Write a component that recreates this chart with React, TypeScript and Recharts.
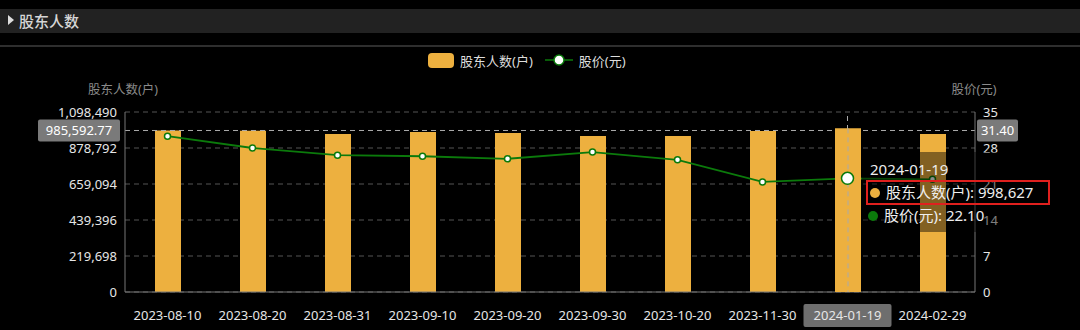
import {
    ComposedChart,
    Bar,
    Line,
    XAxis,
    YAxis,
    CartesianGrid,
    Tooltip,
    ReferenceLine,
    Rectangle,
} from 'recharts'

const categories = ['2023-08-10', '2023-08-20', '2023-08-31', '2023-09-10', '2023-09-20', '2023-09-30', '2023-10-20', '2023-11-30', '2024-01-19', '2024-02-29']
const holders = [985000, 984000, 964000, 976000, 970000, 952000, 952000, 982000, 998627, 964000]
const prices = [30.3, 28.0, 26.6, 26.4, 25.9, 27.2, 25.7, 21.4, 22.1, 21.9]
const leftTicks = [0, 219698, 439396, 659094, 878792, 1098490]
const rightTicks = [0, 7, 14, 21, 28, 35]
const crossValue = 985592.77
const activeCategory = '2024-01-19'

const data = categories.map((name, i) => ({ name, holders: holders[i], price: prices[i] }))

const FONT = "'Noto Sans', 'Noto Sans CJK SC', sans-serif"
const BAR_COLOR = '#EDB03F'
const LINE_COLOR = '#0B7A0B'

const XTick = ({ x, y, payload }: any) => {
    const active = payload.value === activeCategory
    return (
        <g>
            {active && <rect x={x - 44} y={y + 4} width={88} height={23} rx={2} fill="#6e6e6e" />}
            <text x={x} y={y + 20} textAnchor="middle" fill="#e6e6e6" fontSize={13} fontFamily={FONT}>
                {payload.value}
            </text>
        </g>
    )
}

// bar with the crosshair drawn over it for the hovered category
const BarShape = (props: any) => {
    const { x, y, width, height, payload } = props
    return (
        <g>
            <Rectangle {...props} />
            {payload && payload.name === activeCategory && (
                <line x1={x + width / 2} y1={y} x2={x + width / 2} y2={y + height} stroke="#aaa" strokeDasharray="5 4" />
            )}
        </g>
    )
}

const CrossLabel = ({ viewBox }: any) => {
    const { x, y, width } = viewBox
    const right = ((crossValue / leftTicks[leftTicks.length - 1]) * rightTicks[rightTicks.length - 1]).toFixed(2)
    return (
        <g>
            <rect x={x - 87} y={y - 11} width={82} height={22} rx={2} fill="#7a7a7a" />
            <text x={x - 46} y={y + 5} textAnchor="middle" fill="#fff" fontSize={13} fontFamily={FONT}>
                {crossValue.toLocaleString('en-US', { minimumFractionDigits: 2 })}
            </text>
            <rect x={x + width + 2} y={y - 11} width={41} height={22} rx={2} fill="#7a7a7a" />
            <text x={x + width + 22.5} y={y + 5} textAnchor="middle" fill="#fff" fontSize={13} fontFamily={FONT}>
                {right}
            </text>
        </g>
    )
}

const AxisTitle = ({ viewBox, value, side }: any) => {
    const x = side === 'left' ? viewBox.x + viewBox.width - 2 : viewBox.x - 1
    return (
        <text x={x} y={viewBox.y - 18} textAnchor="middle" fill="#8a8a8a" fontSize={12.5} fontFamily={FONT}>
            {value}
        </text>
    )
}

const CustomTooltip = ({ payload }: any) => {
    if (!payload || !payload.length) return null
    const h = payload.find((p: any) => p.dataKey === 'holders')
    const p = payload.find((p: any) => p.dataKey === 'price')
    return (
        <div style={{ background: 'rgba(0,0,0,0.45)', padding: '7px 8px 6px 6px', fontFamily: FONT, color: '#eee', fontSize: 15, lineHeight: '21px', width: 176 }}>
            <div style={{ paddingLeft: 2 }}>{activeCategory}</div>
            <div style={{ display: 'flex', alignItems: 'center', border: '2px solid #e0201e', margin: '0 -6px 0 -2px', padding: '0 4px 0 2px' }}>
                <span style={{ width: 10, height: 10, borderRadius: 5, background: BAR_COLOR, marginRight: 6, display: 'inline-block' }} />
                股东人数(户): {h ? h.value.toLocaleString('en-US') : ''}
            </div>
            <div style={{ display: 'flex', alignItems: 'center' }}>
                <span style={{ width: 10, height: 10, borderRadius: 5, background: LINE_COLOR, marginRight: 6, display: 'inline-block' }} />
                股价(元): {p ? p.value.toFixed(2) : ''}
            </div>
        </div>
    )
}

export default function App() {
    return (
        <div style={{ position: 'relative', width: 1080, height: 330, background: '#000', overflow: 'hidden', fontFamily: FONT }}>
            <style>{'body{margin:0}'}</style>
            {/* title bar */}
            <div style={{ position: 'absolute', left: 0, top: 9, width: 1080, height: 24, background: '#222' }}>
                <span style={{ position: 'absolute', left: 8, top: 6, width: 0, height: 0, borderTop: '5px solid transparent', borderBottom: '5px solid transparent', borderLeft: '6px solid #ddd' }} />
                <span style={{ position: 'absolute', left: 19, top: 1, color: '#d6d6d6', fontSize: 15, fontWeight: 500, fontFamily: "'Noto Sans CJK SC', sans-serif" }}>股东人数</span>
            </div>
            <div style={{ position: 'absolute', left: 0, top: 45, width: 1080, height: 2, background: '#2e2e2e' }} />

            {/* legend */}
            <div style={{ position: 'absolute', left: 428, top: 50, height: 20, display: 'flex', alignItems: 'center', color: '#ddd', fontSize: 13 }}>
                <span style={{ width: 26, height: 15, borderRadius: 4, background: BAR_COLOR, marginRight: 6 }} />
                <span style={{ marginRight: 12 }}>股东人数(户)</span>
                <svg width={28} height={14} style={{ marginRight: 6 }}>
                    <line x1={0} y1={7} x2={28} y2={7} stroke={LINE_COLOR} strokeWidth={1.5} />
                    <circle cx={14} cy={7} r={5} fill="#fff" stroke={LINE_COLOR} strokeWidth={1.5} />
                </svg>
                <span>股价(元)</span>
            </div>

            <div style={{ position: 'absolute', left: 0, top: 0 }}>
                <ComposedChart width={1080} height={330} data={data} margin={{ top: 112, right: 0, bottom: 0, left: 0 }}>
                    <CartesianGrid vertical={false} stroke="#555" strokeDasharray="5 4" yAxisId="left" />
                    <XAxis
                        dataKey="name"
                        height={38}
                        axisLine={{ stroke: '#777' }}
                        tickLine={false}
                        tick={<XTick />}
                        interval={0}
                    />
                    <YAxis
                        yAxisId="left"
                        width={125}
                        domain={[0, leftTicks[leftTicks.length - 1]]}
                        ticks={leftTicks}
                        axisLine={{ stroke: '#777' }}
                        tickLine={false}
                        tick={{ fill: '#e6e6e6', fontSize: 13, fontFamily: FONT }}
                        tickFormatter={(v: number) => v.toLocaleString('en-US')}
                        label={<AxisTitle value="股东人数(户)" side="left" />}
                    />
                    <YAxis
                        yAxisId="right"
                        orientation="right"
                        width={105}
                        domain={[0, rightTicks[rightTicks.length - 1]]}
                        ticks={rightTicks}
                        axisLine={{ stroke: '#777' }}
                        tickLine={false}
                        tick={{ fill: '#e6e6e6', fontSize: 13, fontFamily: FONT }}
                        label={<AxisTitle value="股价(元)" side="right" />}
                    />
                    <ReferenceLine yAxisId="left" x={activeCategory} stroke="#aaa" strokeDasharray="5 4" />
                    <Bar yAxisId="left" dataKey="holders" name="股东人数(户)" fill={BAR_COLOR} barSize={26} shape={<BarShape />} activeBar={<BarShape />} isAnimationActive={false} />
                    <Line
                        yAxisId="right"
                        dataKey="price"
                        name="股价(元)"
                        type="linear"
                        stroke={LINE_COLOR}
                        strokeWidth={1.8}
                        dot={{ r: 3, fill: '#fff', stroke: LINE_COLOR, strokeWidth: 1.5 }}
                        activeDot={{ r: 6, fill: '#fff', stroke: LINE_COLOR, strokeWidth: 1.5 }}
                        isAnimationActive={false}
                    />
                    <ReferenceLine yAxisId="left" y={crossValue} stroke="#aaa" strokeDasharray="5 4" label={<CrossLabel />} />
                    <Tooltip
                        defaultIndex={8}
                        active
                        cursor={false}
                        position={{ x: 862, y: 152 }}
                        isAnimationActive={false}
                        content={<CustomTooltip />}
                        wrapperStyle={{ outline: 'none' }}
                    />
                </ComposedChart>
            </div>
        </div>
    )
}
